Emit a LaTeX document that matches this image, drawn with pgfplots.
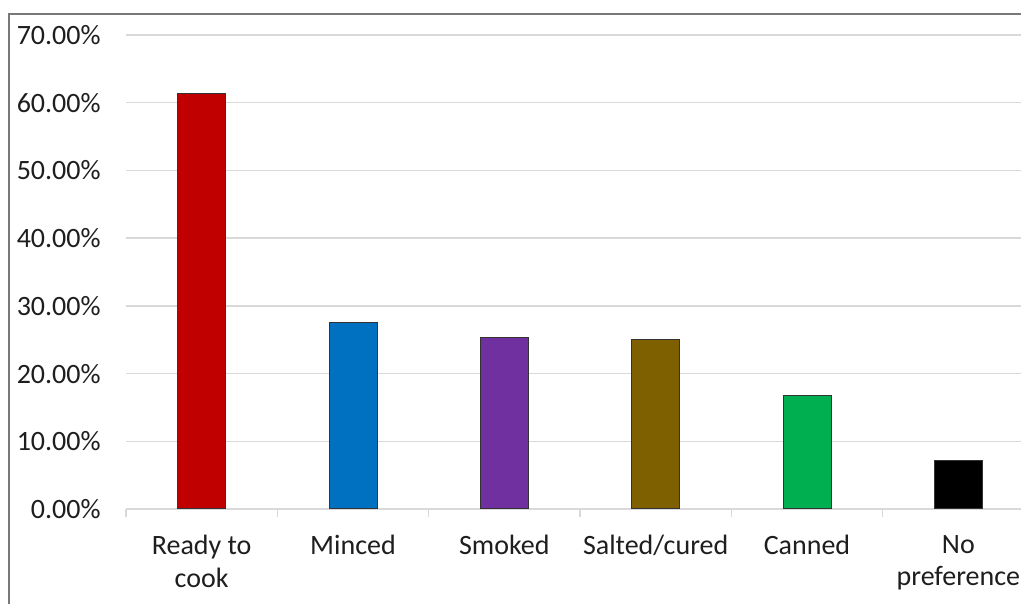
\documentclass[border=0pt]{standalone}
\usepackage{pgfplots}
\pgfplotsset{compat=1.18}
\usepackage{fontspec}
\setmainfont{Carlito}
\definecolor{gridc}{RGB}{217,217,217}
\definecolor{framec}{RGB}{120,120,120}
\definecolor{txtc}{RGB}{30,30,30}
\definecolor{c1}{RGB}{192,0,0}
\definecolor{c2}{RGB}{0,112,192}
\definecolor{c3}{RGB}{112,48,160}
\definecolor{c4}{RGB}{127,96,0}
\definecolor{c5}{RGB}{0,176,80}
\definecolor{c6}{RGB}{0,0,0}
\begin{document}
\begin{tikzpicture}[x=1pt,y=1pt]
\useasboundingbox (0,0) rectangle (510.5,302);
\clip (0,0) rectangle (510.5,302);
\fill[white] (0,0) rectangle (510.5,302);
\draw[framec, line width=1pt] (4.5,0) -- (4.5,294.75) -- (515,294.75);
\begin{axis}[
  at={(63pt,47.5pt)}, anchor=south west,
  scale only axis, width=454pt, height=237pt,
  xmin=-0.5, xmax=5.5, ymin=0, ymax=70,
  axis x line*=bottom, axis y line*=left,
  y axis line style={draw=none},
  x axis line style={draw=gridc, line width=0.75pt, -},
  ytick={0,10,...,70},
  yticklabels={0.00\%,10.00\%,20.00\%,30.00\%,40.00\%,50.00\%,60.00\%,70.00\%},
  xtick={0,...,5},
  xticklabels={Ready to\\cook, Minced, Smoked, Salted/cured, Canned, No\\preference},
  minor xtick={-0.5,0.5,...,5.5},
  tick align=outside,
  major tick length=0pt, minor tick length=4pt,
  minor tick style={draw=gridc, line width=0.75pt},
  major tick style={draw=none},
  ymajorgrids, major grid style={draw=gridc, line width=0.75pt},
  yticklabel style={font=\fontsize{14}{16}\selectfont, text=txtc, anchor=east, inner sep=0pt, xshift=-12.5pt},
  xticklabel style={font=\fontsize{14}{16.2}\selectfont, text=txtc, align=center, anchor=north, inner sep=0pt, yshift=-13pt},
  ybar, bar width=24pt, bar shift=0pt,
  clip=false,
]
\addplot[fill=c1, draw=black!80, line width=0.5pt] coordinates {(0,61.4)};
\addplot[fill=c2, draw=black!80, line width=0.5pt] coordinates {(1,27.5)};
\addplot[fill=c3, draw=black!80, line width=0.5pt] coordinates {(2,25.4)};
\addplot[fill=c4, draw=black!80, line width=0.5pt] coordinates {(3,25.1)};
\addplot[fill=c5, draw=black!80, line width=0.5pt] coordinates {(4,16.7)};
\addplot[fill=c6, draw=black!80, line width=0.5pt] coordinates {(5,7.1)};
\end{axis}
\end{tikzpicture}
\end{document}
